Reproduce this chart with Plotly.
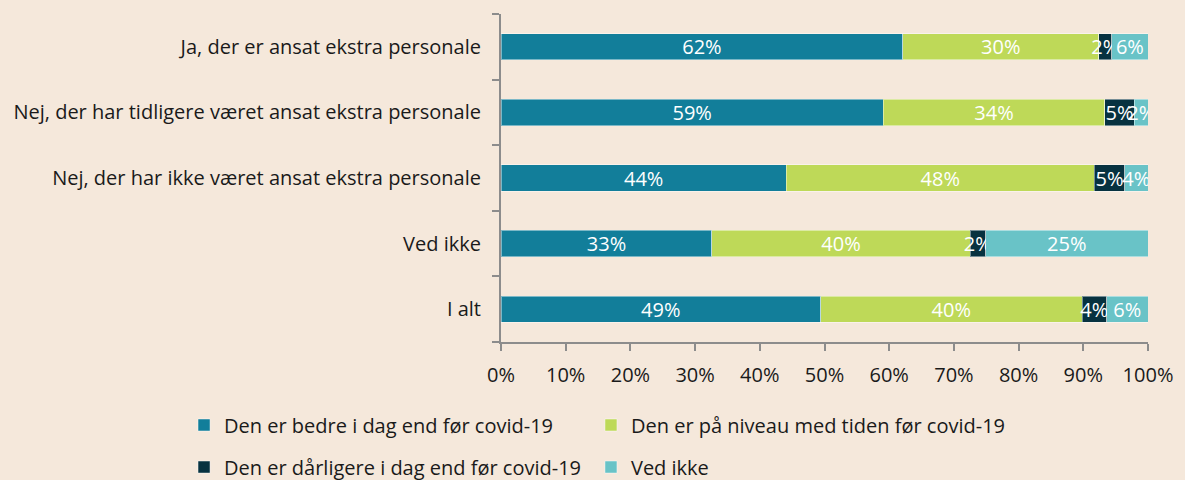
import plotly.graph_objects as go

categories = [
    "Ja, der er ansat ekstra personale",
    "Nej, der har tidligere været ansat ekstra personale",
    "Nej, der har ikke været ansat ekstra personale",
    "Ved ikke",
    "I alt",
]
series_names = [
    "Den er bedre i dag end før covid-19",
    "Den er på niveau med tiden før covid-19",
    "Den er dårligere i dag end før covid-19",
    "Ved ikke",
]
better = [62.1, 59.1, 44.1, 32.6, 49.4]
same = [30.3, 34.2, 47.6, 39.9, 40.4]
worse = [2.0, 4.6, 4.7, 2.4, 3.8]
dont_know = [5.6, 2.1, 3.6, 25.1, 6.4]
x_ticks = [0, 10, 20, 30, 40, 50, 60, 70, 80, 90, 100]
x_tick_labels = [f"{v}%" for v in x_ticks]

colors = ["#127E9A", "#BED958", "#073240", "#69C3C7"]
series = [better, same, worse, dont_know]
legend_ids = ["legend", "legend2", "legend3", "legend4"]
# legend box positions (container fractions)
legend_pos = [(0.1553, 0.1146), (0.4987, 0.1146), (0.1553, 0.027), (0.4987, 0.027)]

FONT = "Open Sans"
FS = 20
BG = "#F5E8DB"
fig = go.Figure()
for name, vals, col, lg in zip(series_names, series, colors, legend_ids):
    fig.add_trace(go.Bar(
        y=categories, x=vals, name=name, orientation="h",
        marker=dict(color=col, line=dict(color="rgba(255,255,255,0.45)", width=1)),
        texttemplate="%{x:.0f}%", textposition="inside", insidetextanchor="middle",
        textangle=0, constraintext="none",
        textfont=dict(color="white", size=FS, family=FONT),
        legend=lg, hoverinfo="skip",
    ))

legend_layout = {}
for lg, (lx, ly) in zip(legend_ids, legend_pos):
    legend_layout[lg] = dict(
        orientation="h", xref="container", yref="container",
        x=lx, y=ly, xanchor="left", yanchor="middle",
        font=dict(size=FS, family=FONT, color="#1a1a1a"),
        bgcolor="rgba(0,0,0,0)", traceorder="normal",
    )

fig.update_layout(
    barmode="stack", bargap=0.6,
    width=1185, height=480,
    paper_bgcolor=BG, plot_bgcolor=BG,
    margin=dict(l=501, r=37, t=14, b=138),
    font=dict(family=FONT, size=FS, color="#1a1a1a"),
    showlegend=True,
    **legend_layout,
)
fig.update_xaxes(
    range=[0, 100], tickvals=x_ticks, ticktext=x_tick_labels,
    showgrid=False, zeroline=False, showline=True, linecolor="#8c8c8c", linewidth=2,
    ticks="outside", ticklen=7, tickcolor="#8c8c8c", tickwidth=2,
    ticklabelstandoff=7,
    tickfont=dict(size=FS, family=FONT, color="#1a1a1a"),
)
fig.update_yaxes(
    categoryorder="array", categoryarray=categories[::-1],
    showgrid=False, showline=True, linecolor="#8c8c8c", linewidth=2,
    ticks="outside", ticklen=7, tickcolor="#8c8c8c", tickwidth=2, tickson="boundaries",
    ticklabelstandoff=14,
    tickfont=dict(size=FS, family=FONT, color="#1a1a1a"),
)
fig.write_html(
    "out.html",
    config={"displayModeBar": False},
    post_script="document.body.style.margin='0';document.body.style.background='%s';" % BG,
)
